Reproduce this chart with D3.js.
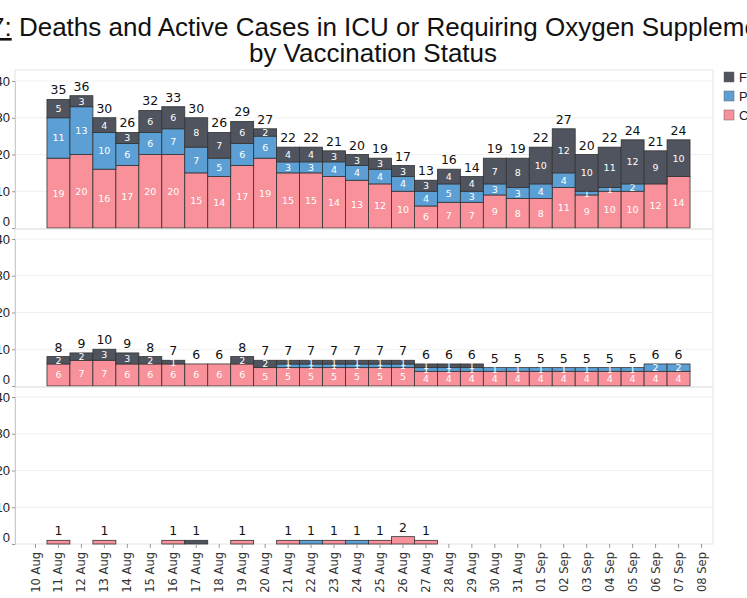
<!DOCTYPE html>
<html>
<head>
<meta charset="utf-8">
<script src="https://cdn.jsdelivr.net/npm/d3@7"></script>
<style>
  body { margin: 0; background: #fff; }
  svg { font-family: "Liberation Sans", Arial, sans-serif; }
</style>
</head>
<body>
<svg id="chart" width="747" height="598"></svg>
<script>
// axis days, 10 Aug .. 08 Sep
var days = ["10 Aug","11 Aug","12 Aug","13 Aug","14 Aug","15 Aug","16 Aug","17 Aug","18 Aug","19 Aug",
  "20 Aug","21 Aug","22 Aug","23 Aug","24 Aug","25 Aug","26 Aug","27 Aug","28 Aug","29 Aug",
  "30 Aug","31 Aug","01 Sep","02 Sep","03 Sep","04 Sep","05 Sep","06 Sep","07 Sep","08 Sep"];
// data days, 11 Aug .. 07 Sep
var dataDays = days.slice(1, 29);

var seriesNames = ["Unvaccinated", "Partially vaccinated", "Fully vaccinated"];
var seriesColors = ["#f9919b", "#5b9fd4", "#4f545e"];
var legendNames = ["Fully vaccinated", "Partially vaccinated", "Cases unvaccinated"];

// panel 1: ICU / oxygen
var icuUnvax  = [19,20,16,17,20,20,15,14,17,19,15,15,14,13,12,10,6,7,7,9,8,8,11,9,10,10,12,14];
var icuPartly = [11,13,10,6,6,7,7,5,6,6,3,3,4,4,4,4,4,5,3,3,3,4,4,1,1,2,0,0];
var icuFully  = [5,3,4,3,6,6,8,7,6,2,4,4,3,3,3,3,3,4,4,7,8,10,12,10,11,12,9,10];
// panel 2
var p2Unvax  = [6,7,7,6,6,6,6,6,6,5,5,5,5,5,5,5,4,4,4,4,4,4,4,4,4,4,4,4];
var p2Partly = [0,0,0,0,0,0,0,0,0,0,1,1,1,1,1,1,1,1,1,1,1,1,1,1,1,1,2,2];
var p2Fully  = [2,2,3,3,2,1,0,0,2,2,1,1,1,1,1,1,1,1,1,0,0,0,0,0,0,0,0,0];
// panel 3: deaths
var deathUnvax  = [1,0,1,0,0,1,0,0,1,0,1,0,1,0,1,2,1,0,0,0,0,0,0,0,0,0,0,0];
var deathPartly = [0,0,0,0,0,0,0,0,0,0,0,1,0,1,0,0,0,0,0,0,0,0,0,0,0,0,0,0];
var deathFully  = [0,0,0,0,0,0,1,0,0,0,0,0,0,0,0,0,0,0,0,0,0,0,0,0,0,0,0,0];

var yTicks = [0, 10, 20, 30, 40];

var panels = [
  { series: [icuUnvax, icuPartly, icuFully], top: 70, base: 228, segLabels: true },
  { series: [p2Unvax, p2Partly, p2Fully], top: 229, base: 386, segLabels: true },
  { series: [deathUnvax, deathPartly, deathFully], top: 387, base: 544, segLabels: false }
];

var svg = d3.select("#chart");
var left = 15, right = 713;

var x = d3.scaleBand().domain(days).range([24, 713]).padding(0);

// title
svg.append("text").attr("x", 373).attr("y", 36).attr("text-anchor", "middle")
  .attr("font-size", 26).attr("fill", "#111")
  .html('<tspan text-decoration="underline">Figure 7:</tspan> Deaths and Active Cases in ICU or Requiring Oxygen Supplementation');
svg.append("text").attr("x", 373).attr("y", 62).attr("text-anchor", "middle")
  .attr("font-size", 26).attr("fill", "#111").text("by Vaccination Status");

// panel frame
svg.append("rect").attr("x", left).attr("y", 70).attr("width", right - left).attr("height", 474)
  .attr("fill", "none").attr("stroke", "#e4e4e4");

panels.forEach(function(p) {
  var y = d3.scaleLinear().domain([0, 40]).range([p.base, p.base - 147]);
  var g = svg.append("g");

  // gridlines
  g.selectAll("line.grid").data(yTicks.slice(1)).enter().append("line")
    .attr("x1", left).attr("x2", right)
    .attr("y1", function(d) { return y(d); }).attr("y2", function(d) { return y(d); })
    .attr("stroke", "#f0f0f0");
  if (p.top > 70) {
    g.append("line").attr("x1", left).attr("x2", right).attr("y1", p.top).attr("y2", p.top)
      .attr("stroke", "#d8d8d8");
  }

  var ax = g.append("g").attr("transform", "translate(" + left + ",0)")
    .call(d3.axisLeft(y).tickValues(yTicks).tickSize(3).tickPadding(2));
  ax.select(".domain").attr("stroke", "#ccc");
  ax.selectAll(".tick line").attr("stroke", "#999");
  ax.selectAll(".tick text").attr("font-size", 13).attr("fill", "#222")
    .attr("dy", function(d) { return d === 0 ? "-0.2em" : "0.32em"; });

  var rows = dataDays.map(function(day, i) {
    var r = { day: day };
    seriesNames.forEach(function(n, k) { r[n] = p.series[k][i]; });
    return r;
  });
  var stacked = d3.stack().keys(seriesNames)(rows);

  stacked.forEach(function(layer, k) {
    var lg = g.append("g");
    lg.selectAll("rect").data(layer.filter(function(d) { return d[1] > d[0]; })).enter().append("rect")
      .attr("x", function(d) { return x(d.data.day); })
      .attr("width", x.bandwidth())
      .attr("y", function(d) { return y(d[1]); })
      .attr("height", function(d) { return y(d[0]) - y(d[1]); })
      .attr("fill", seriesColors[k]).attr("stroke", "#333").attr("stroke-width", 0.8);
    if (p.segLabels) {
      lg.selectAll("text").data(layer.filter(function(d) { return d[1] > d[0]; })).enter().append("text")
        .attr("x", function(d) { return x(d.data.day) + x.bandwidth() / 2; })
        .attr("y", function(d) { return (y(d[0]) + y(d[1])) / 2 + 3.5; })
        .attr("text-anchor", "middle").attr("font-size", 9.5).attr("fill", "#fff")
        .attr("font-family", "DejaVu Sans")
        .text(function(d) { return d[1] - d[0]; });
    }
  });

  // totals
  g.selectAll("text.total").data(rows.filter(function(r) {
      return seriesNames.some(function(n) { return r[n] > 0; }); }))
    .enter().append("text")
    .attr("x", function(r) { return x(r.day) + x.bandwidth() / 2; })
    .attr("y", function(r) { return y(d3.sum(seriesNames, function(n) { return r[n]; })) - 5; })
    .attr("text-anchor", "middle").attr("font-size", 12.5).attr("fill", "#111")
    .attr("font-family", "DejaVu Sans")
    .text(function(r) { return d3.sum(seriesNames, function(n) { return r[n]; }); });
});

// x axis labels
var xa = svg.append("g").attr("transform", "translate(0,544)")
  .call(d3.axisBottom(x).tickSize(4));
xa.select(".domain").remove();
xa.selectAll(".tick line").attr("stroke", "#999");
xa.selectAll(".tick text").attr("font-size", 11.5).attr("fill", "#333")
  .attr("font-family", "DejaVu Sans")
  .attr("transform", "rotate(-90)").attr("text-anchor", "end")
  .attr("x", -8).attr("y", 0).attr("dy", "0.35em");

// legend
var lgd = svg.append("g").attr("transform", "translate(724,72)");
[2, 1, 0].forEach(function(k, i) {
  lgd.append("rect").attr("x", 0).attr("y", i * 19).attr("width", 10).attr("height", 10)
    .attr("fill", seriesColors[k]).attr("stroke", "#666").attr("stroke-width", 0.5);
  lgd.append("text").attr("x", 15).attr("y", i * 19 + 10).attr("font-size", 13).attr("fill", "#222")
    .text(legendNames[i]);
});
</script>
</body>
</html>
